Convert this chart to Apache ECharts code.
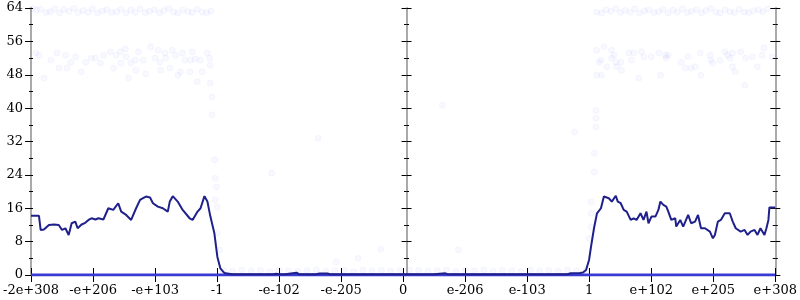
<!DOCTYPE html>
<html><head><meta charset="utf-8">
<script src="https://cdn.jsdelivr.net/npm/echarts@6/dist/echarts.min.js"></script>
<style>html,body{margin:0;padding:0;background:#fff}#c{width:800px;height:300px}</style>
</head><body><div id="c"></div>
<script>
// ---- tick labels (x positions 0..12) ----
const xTickLabels = ['-2e+308','-e+206','-e+103','-1','-e-102','-e-205','0','e-206','e-103','1','e+102','e+205','e+308'];

// ---- main line (x in tick units, y value) ----
const lineX = [0,0.128,0.155,0.208,0.288,0.368,0.447,0.5,0.554,0.607,0.655,0.714,0.751,0.815,0.874,0.927,0.975,1.039,1.087,1.167,1.246,1.326,1.406,1.454,1.534,1.614,1.694,1.758,1.806,1.854,1.918,1.966,2.045,2.125,2.205,2.237,2.285,2.365,2.445,2.557,2.605,2.685,2.733,2.796,2.844,2.892,2.956,3.004,3.052,3.116,
3.24,3.9,3.95,4.0,4.1,4.12,4.28,4.32,4.6,4.65,4.78,4.82,6.5,6.53,6.68,6.72,8.65,8.7,8.85,8.9,
8.949,8.997,9.029,9.077,9.125,9.189,9.236,9.316,9.364,9.428,9.46,9.508,9.556,9.604,9.668,9.716,9.763,9.827,9.875,9.923,9.955,10.003,10.067,10.115,10.147,10.195,10.243,10.275,10.323,10.387,10.403,10.467,10.515,10.595,10.643,10.706,10.754,10.802,10.866,10.946,10.994,11.026,11.074,11.122,11.186,11.266,11.314,11.362,11.442,11.505,11.553,11.601,11.665,11.713,11.761,11.825,11.857,11.889,11.905,12];
const lineY = [14.2,14.2,10.8,10.9,12.0,12.1,12.0,10.8,11.2,9.6,12.4,12.8,11.2,12.1,12.5,13.2,13.6,13.3,13.6,13.3,16.0,15.6,17.2,15.2,14.4,13.2,16.0,18.0,18.4,18.8,18.6,17.2,16.4,16.0,15.2,17.6,18.9,17.6,15.6,13.6,13.2,15.2,16.0,18.9,17.6,14.0,10.0,4.4,1.6,0.5,
0.2,0.2,0.3,0.2,0.2,0.55,0.55,0.2,0.2,0.35,0.35,0.2,0.2,0.4,0.4,0.2,0.2,0.4,0.5,0.6,
1.2,3.6,6.8,11.2,14.8,16.0,18.8,18.4,17.6,19.0,17.6,17.2,15.6,15.2,13.2,13.6,13.2,14.8,13.2,15.2,12.4,14.0,14.0,15.6,17.6,16.8,16.4,15.2,13.2,13.6,11.6,13.2,11.6,14.4,12.4,12.8,14.4,11.2,11.2,10.4,8.8,9.6,12.8,13.2,14.8,14.8,12.8,11.2,10.4,10.8,9.6,10.4,10.8,9.6,11.2,9.6,11.2,13.2,16.2,16.2];

// ---- zero baseline ----
const zeroX = [0,12];
const zeroY = [0,0];

// ---- faint scatter: top band ----
const topX = [0.02,0.09,0.15,0.24,0.31,0.38,0.46,0.53,0.61,0.69,0.76,0.84,0.92,0.99,1.07,1.15,1.22,1.3,1.38,1.45,1.53,1.61,1.68,1.76,1.84,1.91,1.99,2.07,2.14,2.22,2.3,2.37,2.45,2.53,2.6,2.68,2.76,2.83,2.9,
9.12,9.2,9.27,9.35,9.43,9.5,9.58,9.66,9.73,9.81,9.89,9.96,10.04,10.12,10.19,10.27,10.35,10.42,10.5,10.58,10.65,10.73,10.81,10.88,10.96,11.04,11.11,11.19,11.27,11.34,11.42,11.5,11.57,11.65,11.73,11.8,11.88,11.96];
const topY = [63.9,63.5,63.7,62.9,63.1,63.8,62.8,63.6,63.2,63.9,62.9,63.4,63.0,63.8,62.8,63.3,63.6,62.9,63.1,63.7,62.8,63.5,63.0,63.8,62.9,63.2,63.6,62.8,63.4,63.9,63.0,62.8,63.5,63.1,62.9,63.7,63.0,62.9,63.3,
63.0,62.8,63.6,63.2,63.9,62.9,63.4,63.0,63.8,62.8,63.3,63.6,62.9,63.1,63.7,62.8,63.5,63.0,63.8,62.9,63.2,63.6,62.8,63.4,63.9,63.0,62.8,63.5,63.1,62.9,63.7,63.0,62.9,63.3,63.6,63.1,63.8];

// ---- faint scatter: middle band (~48-54) ----
const midX = [0.08,0.13,0.21,0.32,0.42,0.45,0.56,0.58,0.64,0.72,0.81,0.88,0.97,1.04,1.12,1.17,1.28,1.33,1.37,1.44,1.45,1.52,1.53,1.57,1.61,1.68,1.69,1.73,1.81,1.85,1.93,2.0,2.05,2.08,2.09,2.16,2.17,2.24,2.28,2.33,2.37,2.41,2.44,2.48,2.56,2.57,2.6,2.65,2.68,2.73,2.76,2.84,2.88,2.89,2.89,
9.12,9.12,9.16,9.19,9.2,9.24,9.28,9.36,9.36,9.4,9.43,9.44,9.51,9.52,9.64,9.68,9.72,9.8,9.84,9.88,10.0,10.12,10.15,10.23,10.24,10.27,10.48,10.55,10.59,10.64,10.71,10.79,10.8,10.95,10.96,10.99,11.11,11.19,11.23,11.27,11.31,11.31,11.35,11.44,11.51,11.52,11.63,11.71,11.79,11.82,11.95];
const midY = [53.2,52.7,47.2,51.5,53.2,49.6,52.7,49.6,51.0,52.3,48.7,51.0,52.0,52.0,50.8,52.7,53.5,49.6,52.7,53.5,50.8,54.2,52.3,47.2,50.8,51.5,49.1,53.5,51.5,48.2,54.7,52.0,53.9,51.0,49.1,53.2,52.0,49.6,53.9,52.7,47.9,48.7,53.2,51.5,48.7,51.5,53.5,51.8,46.3,51.5,48.7,53.2,52.0,50.3,46.0,
53.9,47.9,51.0,51.5,47.9,54.7,49.9,53.9,52.0,52.7,51.0,49.9,51.0,49.1,53.2,51.5,53.2,47.2,53.5,52.3,52.3,53.2,47.9,52.7,52.0,52.7,51.0,49.6,52.3,49.6,49.9,53.2,47.9,52.7,51.5,50.8,51.5,53.5,52.7,52.0,53.2,49.9,48.7,53.5,45.5,52.0,52.3,49.9,52.7,54.4,52.3];

// ---- faint scatter: stray points ----
const strayX = [2.92,2.92,2.96,2.97,2.99,3.0,3.0,3.04,2.97,3.88,4.63,4.92,5.27,5.64,6.63,6.89,8.76,9.03,9.03,9.03,9.0,9.08,9.08,9.11,9.11,9.11];
const strayY = [42.7,38.4,27.6,23.2,21.1,16.3,10.0,6.0,18.0,24.4,32.8,3.1,4.0,6.2,40.7,6.0,34.3,17.5,14.8,11.5,8.8,24.7,29.2,35.5,37.6,39.5];

// ---- faint scatter: low band (~1) ----
const lowX = [3.1,3.25,3.4,3.55,3.7,3.85,4.0,4.15,4.3,4.45,4.6,4.75,4.9,5.05,5.2,5.35,5.5,5.65,5.8,5.95,6.1,6.25,6.4,6.55,6.7,6.85,7.0,7.15,7.3,7.45,7.6,7.75,7.9,8.05,8.2,8.35,8.5,8.65,8.8,8.95];
const lowY = [1.1,0.9,1.2,1.0,1.1,0.8,1.2,1.0,0.9,1.1,1.2,0.9,1.0,1.1,0.8,1.2,1.0,1.1,0.9,1.0,1.2,1.1,0.9,1.0,1.2,0.8,1.1,1.0,1.2,0.9,1.1,1.0,0.8,1.2,1.0,1.1,0.9,1.2,1.0,1.1];

const zip = (a,b)=>a.map((v,i)=>[v,b[i]]);
const FONT = 'DejaVu Serif';
const GRAYLINE = {show:true, lineStyle:{color:'#aaaaaa', width:2}};

const yBase = {type:'value', min:0, max:64, interval:8, splitLine:{show:false}};
const chart = echarts.init(document.getElementById('c'), null, {renderer:'canvas'});
const faint = {color:'rgba(100,100,255,0.06)', borderColor:'rgba(80,80,255,0.05)', borderWidth:1};

chart.setOption({
  animation:false,
  grid:{left:27, right:22, top:8, bottom:25, containLabel:false},
  xAxis:[
    {type:'value', min:0, max:12, interval:1, position:'bottom',
     axisLine:GRAYLINE, splitLine:{show:false},
     axisTick:{show:true, length:7, lineStyle:{color:'#000', width:1}},
     axisLabel:{show:true, margin:9, fontFamily:FONT, fontSize:13, color:'#000',
                formatter:(v)=>xTickLabels[Math.round(v)], showMinLabel:true, showMaxLabel:true}},
    {type:'value', min:0, max:12, interval:1, position:'bottom',
     axisLine:{show:false}, splitLine:{show:false},
     axisTick:{show:true, inside:true, length:7, lineStyle:{color:'#000', width:1}},
     axisLabel:{show:false}},
    {type:'value', min:0, max:12, interval:1, position:'top',
     axisLine:GRAYLINE, splitLine:{show:false}, axisTick:{show:false}, axisLabel:{show:false}}
  ],
  yAxis:[
    Object.assign({}, yBase, {position:'left', axisLine:GRAYLINE,
      axisTick:{show:true, length:6, lineStyle:{color:'#000'}},
      minorTick:{show:true, splitNumber:2, length:2, lineStyle:{color:'#000'}},
      axisLabel:{show:true, margin:8, fontFamily:FONT, fontSize:13, color:'#000'}}),
    Object.assign({}, yBase, {position:'left', axisLine:{show:false},
      axisTick:{show:true, inside:true, length:2, lineStyle:{color:'#000'}},
      minorTick:{show:true, splitNumber:2, length:2, lineStyle:{color:'#000'}},
      axisLabel:{show:false}}),
    Object.assign({}, yBase, {position:'left', offset:-375.5, axisLine:GRAYLINE,
      axisTick:{show:true, length:5, lineStyle:{color:'#000'}},
      minorTick:{show:true, splitNumber:2, length:2.5, lineStyle:{color:'#000'}},
      axisLabel:{show:false}}),
    Object.assign({}, yBase, {position:'left', offset:-375.5, axisLine:{show:false},
      axisTick:{show:true, inside:true, length:5, lineStyle:{color:'#000'}},
      minorTick:{show:true, splitNumber:2, length:2.5, inside:true, lineStyle:{color:'#000'}},
      axisLabel:{show:false}}),
    Object.assign({}, yBase, {position:'right', axisLine:GRAYLINE,
      axisTick:{show:true, length:5, lineStyle:{color:'#000'}},
      minorTick:{show:true, splitNumber:2, length:2.5, lineStyle:{color:'#000'}},
      axisLabel:{show:false}}),
    Object.assign({}, yBase, {position:'right', axisLine:{show:false},
      axisTick:{show:true, inside:true, length:5, lineStyle:{color:'#000'}},
      minorTick:{show:true, splitNumber:2, length:2.5, lineStyle:{color:'#000'}},
      axisLabel:{show:false}})
  ],
  series:[
    {type:'scatter', data:zip(topX,topY), symbolSize:6, itemStyle:faint, z:2},
    {type:'scatter', data:zip(midX,midY), symbolSize:6, itemStyle:faint, z:2},
    {type:'scatter', data:zip(strayX,strayY), symbolSize:6, itemStyle:faint, z:2},
    {type:'scatter', data:zip(lowX,lowY), symbolSize:6, itemStyle:faint, z:2},
    {type:'line', data:zip(zeroX,zeroY), showSymbol:false, lineStyle:{color:'#3a3ad4', width:3}, z:3},
    {type:'line', data:zip(lineX,lineY), showSymbol:false, lineStyle:{color:'#20208c', width:2}, z:4}
  ]
});
</script></body></html>
